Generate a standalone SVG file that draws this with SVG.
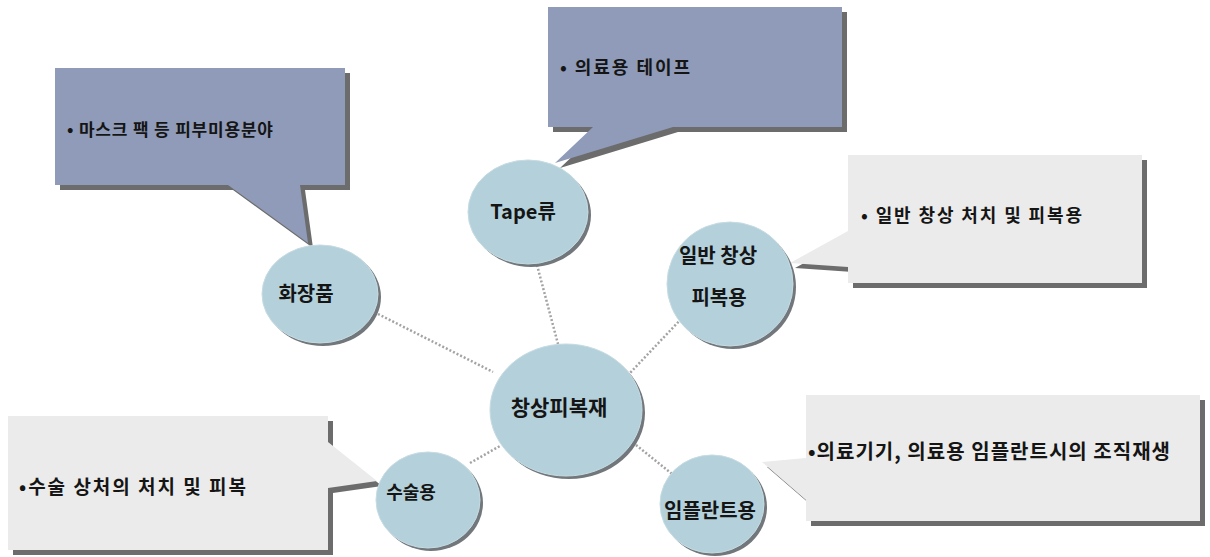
<svg xmlns="http://www.w3.org/2000/svg" width="1210" height="557" viewBox="0 0 1210 557">
<style>
.dark{fill:#8f9bb8}
.light{fill:#ebebeb}
.shd{fill:#6c6c6c}
.ball{fill:#b4d1db;stroke:#c6dbe2;stroke-width:1}
.bshd{fill:#72777b}
.t{font-family:"Noto Sans CJK KR","Noto Sans",sans-serif;font-weight:700;fill:#151515}
.ct{font-size:20px;text-anchor:middle}
.bt{font-size:17px}
.conn{stroke:#a3a3a3;stroke-width:2.5;stroke-dasharray:2 2;fill:none}
</style>
<rect width="1210" height="557" fill="#ffffff"/>
<g id="connectors">
<line class="conn" x1="378" y1="314" x2="493" y2="372"/>
<line class="conn" x1="537" y1="265" x2="558" y2="344"/>
<line class="conn" x1="684" y1="316" x2="630" y2="373"/>
<line class="conn" x1="470" y1="463" x2="500" y2="446"/>
<line class="conn" x1="636" y1="445" x2="677" y2="478"/>
</g>
<g id="callout-cosmetic">
<path class="shd" d="M60,73 H350 V190 H305 L313,248 L233,190 H60 Z"/>
<path class="dark" d="M55,68 H345 V185 H300 L308,243 L228,185 H55 Z"/>
<text class="t bt" x="67" y="136" textLength="206">• 마스크 팩 등 피부미용분야</text>
</g>
<g id="callout-tape">
<path class="shd" d="M553,12 H847 V132 H678 L560,168 L598,132 H553 Z"/>
<path class="dark" d="M548,7 H842 V127 H673 L555,163 L593,127 H548 Z"/>
<text class="t bt" x="560" y="74" style="font-size:18px" textLength="130">• 의료용 테이프</text>
</g>
<g id="callout-general">
<path class="shd" d="M853,160 H1147 V288 H853 V272 L795,268 L853,236 Z"/>
<path class="light" d="M848,155 H1142 V283 H848 V267 L790,263 L848,231 Z"/>
<text class="t bt" x="861" y="222" style="font-size:18px" textLength="221">• 일반 창상 처치 및 피복용</text>
</g>
<g id="callout-surgery">
<path class="shd" d="M13,421 H333 V447 L382,486 L333,493 V555 H13 Z"/>
<path class="light" d="M8,416 H328 V442 L377,481 L328,488 V550 H8 Z"/>
<text class="t bt" x="19" y="494" style="font-size:19px" textLength="227">•수술 상처의 처치 및 피복</text>
</g>
<g id="callout-implant">
<path class="shd" d="M811,400 H1205 V526 H811 V505 L767,467 L811,463 Z"/>
<path class="light" d="M806,395 H1200 V521 H806 V500 L762,462 L806,458 Z"/>
<text class="t bt" x="808" y="459" style="font-size:20px" textLength="362">•의료기기, 의료용 임플란트시의 조직재생</text>
</g>
<g id="node-cosmetic">
<ellipse class="bshd" cx="323" cy="297" rx="58" ry="49"/>
<ellipse class="ball" cx="320" cy="294" rx="58" ry="49"/>
<text class="t ct" x="306" y="301">화장품</text>
</g>
<g id="node-tape">
<ellipse class="bshd" cx="531" cy="215" rx="60" ry="52"/>
<ellipse class="ball" cx="528" cy="212" rx="60" ry="52"/>
<text class="t ct" x="523" y="219">Tape류</text>
</g>
<g id="node-general">
<ellipse class="bshd" cx="733" cy="287" rx="63" ry="62"/>
<ellipse class="ball" cx="730" cy="284" rx="63" ry="62"/>
<text class="t ct" x="718" y="263">일반 창상</text>
<text class="t ct" x="719" y="305">피복용</text>
</g>
<g id="node-center">
<ellipse class="bshd" cx="569" cy="413" rx="76" ry="66"/>
<ellipse class="ball" cx="566" cy="410" rx="76" ry="66"/>
<text class="t ct" x="559" y="415" style="font-size:21px">창상피복재</text>
</g>
<g id="node-surgery">
<ellipse class="bshd" cx="431" cy="503" rx="52" ry="48"/>
<ellipse class="ball" cx="428" cy="500" rx="52" ry="48"/>
<text class="t ct" x="411" y="499" style="font-size:18px">수술용</text>
</g>
<g id="node-implant">
<ellipse class="bshd" cx="715" cy="507" rx="52" ry="49"/>
<ellipse class="ball" cx="712" cy="504" rx="52" ry="49"/>
<text class="t ct" x="710" y="518">임플란트용</text>
</g>
</svg>
